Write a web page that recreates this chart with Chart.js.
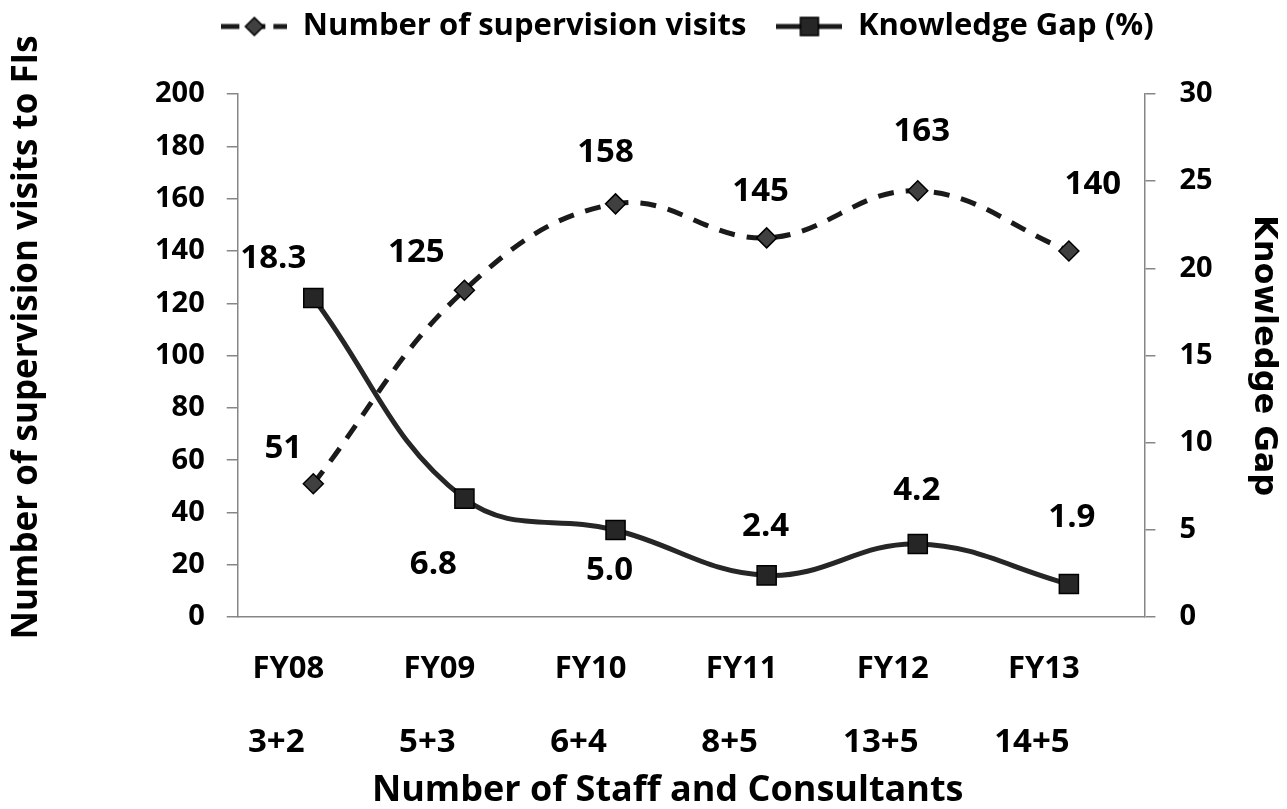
<!DOCTYPE html>
<html>
<head>
<meta charset="utf-8">
<title>Supervision visits and knowledge gap</title>
<script src="https://cdn.jsdelivr.net/npm/chart.js@4.4.0/dist/chart.umd.min.js"></script>
<style>
    html, body { margin: 0; padding: 0; background: #fff; }
    #wrap { width: 1287px; height: 809px; }
</style>
</head>
<body>
<div id="wrap"><canvas id="chart"></canvas></div>
<script>
    // Chart data
    const categories = ['FY08', 'FY09', 'FY10', 'FY11', 'FY12', 'FY13'];
    const staffLabels = ['3+2', '5+3', '6+4', '8+5', '13+5', '14+5'];
    const supervisionVisits = [51, 125, 158, 145, 163, 140];
    const knowledgeGap = [18.3, 6.8, 5.0, 2.4, 4.2, 1.9];

    // Where each value label sits relative to its point (dx, dy)
    const visitLabelShift = [[-30, -35], [-48, -38], [-10, -51], [-6, -46], [4, -59], [24, -66]];
    const gapLabelShift = [[-40, -39], [-31, 66], [-6, 41], [-1, -49], [-1, -53], [3, -66]];

    const FONT = '"Open Sans", Lato, sans-serif';
    const AXIS_GREY = '#868686';
    const NB = '\u00a0';

    /**
     * Build a small legend sample: line + marker
     */
    function legendSample(dashed, marker) {
        const c = document.createElement('canvas');
        c.width = 66;
        c.height = 24;
        const g = c.getContext('2d');
        g.strokeStyle = '#1a1a1a';
        g.lineWidth = 5;
        if (dashed) g.setLineDash([18, 8]);
        g.beginPath();
        g.moveTo(0, 12);
        g.lineTo(66, 12);
        g.stroke();
        g.setLineDash([]);
        g.lineWidth = 1.5;
        g.strokeStyle = '#000';
        if (marker === 'diamond') {
            g.fillStyle = '#404040';
            g.beginPath();
            g.moveTo(33, 3);
            g.lineTo(42, 12);
            g.lineTo(33, 21);
            g.lineTo(24, 12);
            g.closePath();
            g.fill();
            g.stroke();
        } else {
            g.fillStyle = '#262626';
            g.fillRect(24, 3, 18, 18);
            g.strokeRect(24, 3, 18, 18);
        }
        return c;
    }

    // Value labels drawn next to every point
    const valueLabels = {
        id: 'valueLabels',
        afterDatasetsDraw(chart) {
            const ctx = chart.ctx;
            ctx.save();
            ctx.font = 'bold 33px ' + FONT;
            ctx.fillStyle = '#000';
            ctx.textAlign = 'center';
            ctx.textBaseline = 'middle';
            chart.data.datasets.forEach(function(ds, di) {
                const meta = chart.getDatasetMeta(di);
                const shifts = di === 0 ? visitLabelShift : gapLabelShift;
                meta.data.forEach(function(pt, i) {
                    const txt = di === 0 ? String(ds.data[i]) : ds.data[i].toFixed(1);
                    ctx.fillText(txt, pt.x + shifts[i][0], pt.y + shifts[i][1]);
                });
            });
            ctx.restore();
        }
    };

    // Extra room under the legend, and nudge it up / right like the original
    const legendNudge = {
        id: 'legendNudge',
        beforeInit(chart) {
            const lg = chart.legend;
            if (!lg) return;
            const origFit = lg.fit;
            lg.fit = function() {
                origFit.bind(lg)();
                this.height += 23;
            };
        },
        afterLayout(chart) {
            const lg = chart.legend;
            if (!lg) return;
            lg.left += 42;
            lg.right += 42;
            lg.top -= 19;
            lg.bottom -= 19;
        }
    };

    const diamondImg = legendSample(true, 'diamond');
    const squareImg = legendSample(false, 'square');

    new Chart(document.getElementById('chart'), {
        type: 'line',
        data: {
            labels: categories,
            datasets: [
                {
                    label: 'Number of supervision visits',
                    data: supervisionVisits,
                    yAxisID: 'y',
                    borderColor: '#1a1a1a',
                    borderWidth: 5,
                    borderDash: [16, 12],
                    tension: 0.4,
                    pointStyle: 'rectRot',
                    pointRadius: 10,
                    pointBackgroundColor: '#404040',
                    pointBorderColor: '#000',
                    pointBorderWidth: 1.5
                },
                {
                    label: 'Knowledge Gap (%)',
                    data: knowledgeGap,
                    yAxisID: 'y1',
                    borderColor: '#262626',
                    borderWidth: 5,
                    tension: 0.4,
                    pointStyle: 'rect',
                    pointRadius: 13.5,
                    pointBackgroundColor: '#262626',
                    pointBorderColor: '#000',
                    pointBorderWidth: 1.5
                }
            ]
        },
        options: {
            responsive: true,
            maintainAspectRatio: false,
            animation: false,
            layout: {
                padding: { left: 6, right: 2, top: 0, bottom: 0 }
            },
            plugins: {
                legend: {
                    display: true,
                    position: 'top',
                    labels: {
                        color: '#000',
                        font: { family: FONT, size: 31, weight: 'bold' },
                        usePointStyle: true,
                        pointStyleWidth: 66,
                        padding: 30,
                        generateLabels: function() {
                            return [
                                { text: 'Number of supervision visits', pointStyle: diamondImg, fontColor: '#000', lineWidth: 0, datasetIndex: 0 },
                                { text: 'Knowledge Gap (%)', pointStyle: squareImg, fontColor: '#000', lineWidth: 0, datasetIndex: 1 }
                            ];
                        }
                    }
                },
                tooltip: { enabled: false }
            },
            scales: {
                x: {
                    type: 'category',
                    position: 'bottom',
                    offset: true,
                    weight: 0,
                    grid: { display: false, drawTicks: false },
                    border: { display: true, color: AXIS_GREY, width: 1.5 },
                    ticks: {
                        color: '#000',
                        padding: 33,
                        labelOffset: -25,
                        maxRotation: 0,
                        font: { family: FONT, size: 31, weight: 'bold' }
                    }
                },
                x2: {
                    type: 'category',
                    position: 'bottom',
                    labels: staffLabels,
                    offset: true,
                    weight: 1,
                    grid: { display: false, drawTicks: false },
                    border: { display: false },
                    ticks: {
                        color: '#000',
                        padding: 2,
                        labelOffset: -37,
                        maxRotation: 0,
                        font: { family: FONT, size: 33, weight: 'bold' }
                    },
                    title: {
                        display: true,
                        text: 'Number of Staff and Consultants' + NB.repeat(5),
                        color: '#000',
                        padding: { top: 9, bottom: 0 },
                        font: { family: FONT, size: 36, weight: 'bold', lineHeight: 1 }
                    }
                },
                y: {
                    position: 'left',
                    min: 0,
                    max: 200,
                    grid: { display: true, drawOnChartArea: false, tickLength: 11, color: AXIS_GREY, lineWidth: 1.5 },
                    border: { display: true, color: AXIS_GREY, width: 1.5 },
                    ticks: {
                        stepSize: 20,
                        color: '#000',
                        padding: 22,
                        font: { family: FONT, size: 29, weight: 'bold' }
                    },
                    title: {
                        display: true,
                        text: NB.repeat(4) + 'Number of supervision visits to FIs',
                        color: '#000',
                        padding: { top: 0, bottom: 85 },
                        font: { family: FONT, size: 35, weight: 'bold' }
                    }
                },
                y1: {
                    position: 'right',
                    min: 0,
                    max: 30,
                    grid: { display: true, drawOnChartArea: false, tickLength: 11, color: AXIS_GREY, lineWidth: 1.5 },
                    border: { display: true, color: AXIS_GREY, width: 1.5 },
                    ticks: {
                        stepSize: 5,
                        color: '#000',
                        padding: 24,
                        font: { family: FONT, size: 29, weight: 'bold' }
                    },
                    title: {
                        display: true,
                        text: 'Knowledge Gap',
                        color: '#000',
                        padding: { top: 2, bottom: 8 },
                        font: { family: '"DejaVu Sans", sans-serif', size: 32, weight: 'bold' }
                    }
                }
            }
        },
        plugins: [valueLabels, legendNudge]
    });
</script>
</body>
</html>
